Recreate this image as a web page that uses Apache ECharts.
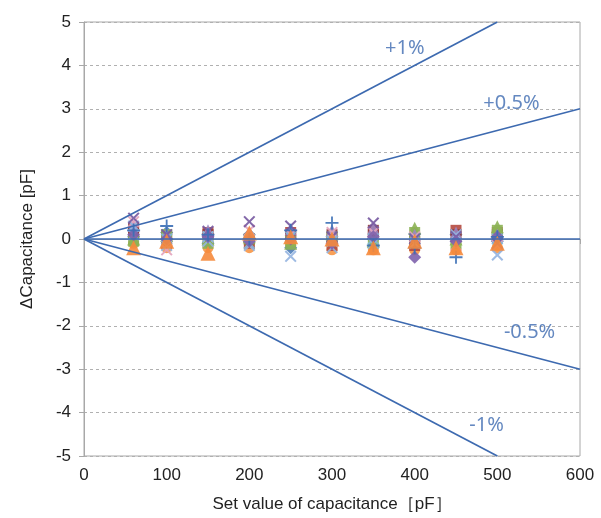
<!DOCTYPE html>
<html>
<head>
<meta charset="utf-8">
<script src="https://cdn.jsdelivr.net/npm/echarts@6/dist/echarts.min.js"></script>
<style>
  html, body { margin: 0; padding: 0; background: #fff; }
  #chart-container { width: 601px; height: 518px; }
</style>
</head>
<body>
<div id="chart-container"></div>
<script>
var dom = document.getElementById("chart-container");
var myChart = echarts.init(dom, null, { renderer: "canvas" });

// set values of capacitance [pF]
const setValues = [60, 100, 150, 200, 250, 300, 350, 400, 450, 500];

// deviation per sample [pF]
const sampleOrangeTri = [-0.2, -0.05, -0.33, 0.14, 0.05, 0.0, -0.2, -0.05, -0.2, -0.1];
const samplePurpleDia = [0.1, 0.0, 0.05, -0.05, 0.0, -0.1, 0.05, -0.42, -0.05, 0.05];
const sampleGreenTri = [0.0, 0.08, 0.0, 0.05, -0.1, 0.12, -0.05, 0.25, 0.0, 0.28];
const sampleRedSq = [0.15, -0.1, 0.15, -0.1, 0.15, -0.15, 0.1, -0.15, 0.2, 0.15];
const sampleDarkX = [0.48, 0.1, 0.18, 0.4, 0.3, 0.05, 0.37, 0.0, 0.05, -0.1];
const sampleLightX = [0.3, -0.15, -0.05, -0.15, -0.4, -0.2, -0.1, -0.1, 0.1, -0.37];
const samplePinkX = [0.4, -0.25, 0.05, 0.2, 0.1, 0.15, 0.15, 0.05, -0.15, -0.15];
const sampleBluePlus = [0.2, 0.3, 0.1, 0.0, 0.2, 0.37, -0.15, -0.2, -0.42, 0.05];
const sampleBlueDia = [0.05, 0.15, -0.1, 0.1, -0.2, 0.05, 0.0, 0.12, 0.1, -0.05];
const sampleOrangeCir = [-0.1, -0.2, -0.2, -0.2, -0.15, -0.25, -0.25, -0.25, -0.25, -0.2];
const sampleBrownSq = [0.25, 0.05, 0.1, 0.0, 0.1, 0.1, 0.2, -0.05, 0.1, 0.1];
const sampleGreenSq = [-0.05, 0.1, -0.1, 0.0, -0.05, 0.05, -0.1, 0.15, -0.1, 0.2];
const sampleAquaX = [0.1, 0.0, 0.05, -0.1, 0.05, -0.05, 0.0, 0.0, 0.05, 0.0];
const sampleVioletTri = [0.3, 0.12, 0.2, 0.15, 0.22, 0.2, 0.25, 0.1, 0.15, 0.1];

// tolerance lines [[x, y], ...]
const linePlus1 = [[0, 0], [500, 5]];
const linePlus05 = [[0, 0], [600, 3]];
const lineZero = [[0, 0], [600, 0]];
const lineMinus05 = [[0, 0], [600, -3]];
const lineMinus1 = [[0, 0], [500, -5]];

// labels of tolerance lines [x, y, text]
const lineLabels = [
  [388, 4.4, "+1%"],
  [517, 3.13, "+0.5%"],
  [539, -2.14, "-0.5%"],
  [487, -4.3, "-1%"],
];

const xTicks = [0, 100, 200, 300, 400, 500, 600];
const yTicks = [-5, -4, -3, -2, -1, 0, 1, 2, 3, 4, 5];

const SYM_X = "path://M0,1.2 L1.2,0 L5,3.8 L8.8,0 L10,1.2 L6.2,5 L10,8.8 L8.8,10 L5,6.2 L1.2,10 L0,8.8 L3.8,5 Z";
const SYM_PLUS = "path://M4.3,0 H5.7 V4.3 H10 V5.7 H5.7 V10 H4.3 V5.7 H0 V4.3 H4.3 Z";
const lineColor = "#3D6AB0";

function pts(values) {
  return setValues.map(function (x, i) {
    return [x, values[i]];
  });
}

function scatter(name, values, symbol, color, size) {
  return {
    name: name,
    type: "scatter",
    data: pts(values),
    symbol: symbol,
    symbolSize: size,
    itemStyle: { color: color, opacity: 0.9 },
    z: 2,
  };
}

function tolLine(data) {
  return {
    type: "line",
    data: data,
    symbol: "none",
    z: 5,
    silent: true,
    lineStyle: { color: lineColor, width: 1.7 },
  };
}

var option = {
  backgroundColor: "#fff",
  animation: false,
  grid: {
    left: 84,
    right: 21,
    top: 22,
    bottom: 62,
    show: true,
    borderColor: "#a8a8a8",
    borderWidth: 1,
  },
  xAxis: {
    type: "value",
    min: 0,
    max: 600,
    interval: 100,
    name: "Set value of capacitance［pF］",
    nameLocation: "middle",
    nameGap: 40,
    nameTextStyle: { fontFamily: "Liberation Sans", fontSize: 17, color: "#222" },
    axisLine: { show: true, lineStyle: { color: "#a8a8a8" } },
    axisTick: { show: true, length: 5, lineStyle: { color: "#a8a8a8" } },
    axisLabel: {
      margin: 11,
      fontFamily: "Liberation Sans",
      fontSize: 17,
      color: "#222",
      formatter: function (v) {
        return xTicks.indexOf(v) >= 0 ? String(v) : "";
      },
    },
    splitLine: { show: false },
  },
  yAxis: {
    type: "value",
    min: -5,
    max: 5,
    interval: 1,
    name: "ΔCapacitance [pF]",
    nameLocation: "middle",
    nameGap: 48,
    nameTextStyle: { fontFamily: "Liberation Sans", fontSize: 17, color: "#222" },
    axisLine: { show: true, lineStyle: { color: "#a8a8a8" } },
    axisTick: { show: true, length: 5, lineStyle: { color: "#a8a8a8" } },
    axisLabel: {
      margin: 13,
      fontFamily: "Liberation Sans",
      fontSize: 17,
      color: "#222",
      formatter: function (v) {
        return yTicks.indexOf(v) >= 0 ? String(v) : "";
      },
    },
    splitLine: {
      show: true,
      lineStyle: { color: "#b0b0b0", type: [3, 3], width: 1 },
    },
  },
  series: [
    scatter("s1", sampleOrangeCir, "circle", "#F79646", 11),
    scatter("s2", sampleBlueDia, "diamond", "#4F81BD", 13),
    scatter("s3", sampleRedSq, "rect", "#B5493F", 11),
    scatter("s11", sampleBrownSq, "rect", "#8E3B3A", 11),
    scatter("s12", sampleGreenSq, "rect", "#8DB255", 11),
    scatter("s4", sampleGreenTri, "triangle", "#8DB255", 13),
    scatter("s14", sampleVioletTri, "triangle", "#9C86C2", 12),
    scatter("s5", samplePinkX, SYM_X, "#E3A3BC", 12),
    scatter("s13", sampleAquaX, SYM_X, "#7FB6D8", 12),
    scatter("s6", sampleLightX, SYM_X, "#94B4E0", 12),
    scatter("s7", sampleDarkX, SYM_X, "#7558A0", 12),
    scatter("s8", samplePurpleDia, "diamond", "#7E62AC", 13),
    scatter("s9", sampleBluePlus, SYM_PLUS, "#3B6FB6", 13),
    scatter("s10", sampleOrangeTri, "triangle", "#F58A3C", 15),
    tolLine(linePlus1),
    tolLine(linePlus05),
    tolLine(lineZero),
    tolLine(lineMinus05),
    tolLine(lineMinus1),
    {
      type: "scatter",
      data: lineLabels,
      symbolSize: 0,
      silent: true,
      z: 6,
      label: {
        show: true,
        position: "inside",
        formatter: function (p) {
          return p.value[2];
        },
        fontFamily: "Noto Sans",
        fontSize: 20,
        color: lineColor,
      },
    },
  ],
};

myChart.setOption(option);
window.addEventListener("resize", myChart.resize);
</script>
</body>
</html>
